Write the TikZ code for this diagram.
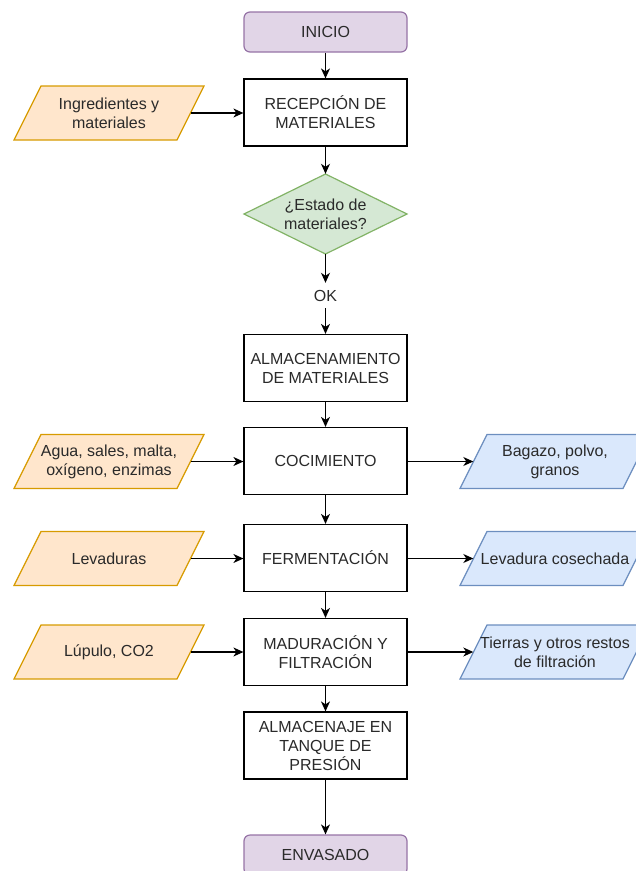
\documentclass[tikz,border=0pt]{standalone}
\usepackage{fontspec}
\setmainfont{Liberation Sans}
\usetikzlibrary{arrows.meta}
\definecolor{purF}{HTML}{E1D5E7}
\definecolor{purD}{HTML}{9673A6}
\definecolor{oraF}{HTML}{FFE6CC}
\definecolor{oraD}{HTML}{D79B00}
\definecolor{bluF}{HTML}{DAE8FC}
\definecolor{bluD}{HTML}{6C8EBF}
\definecolor{grnF}{HTML}{D5E8D4}
\definecolor{grnD}{HTML}{82B366}
\definecolor{txt}{HTML}{2A2A2A}
\newcommand{\iobox}[5]{%
  \filldraw[#4, line width=1.2pt] (#2-95,#3+27) -- (#2+68,#3+27) -- (#2+95,#3-27) -- (#2-68,#3-27) -- cycle;
  \node[iotext] (#1) at (#2,#3) {#5};
}
\begin{document}
\begin{tikzpicture}[x=1pt,y=-1pt,
  font=\fontsize{16}{19}\selectfont,
  proc/.style={draw=black, line width=1.2pt, fill=white, minimum width=163pt, minimum height=67pt, align=center, inner sep=2pt, text=txt},
  term/.style={proc, rounded corners=6pt, fill=purF, draw=purD, minimum height=40pt},
  iotext/.style={minimum width=163pt, minimum height=54pt, inner sep=0pt, align=center, text=txt},
  inio/.style={fill=oraF, draw=oraD},
  outio/.style={fill=bluF, draw=bluD},
  arr/.style={-{Stealth[length=10pt,width=9pt,inset=3pt]}, line width=1.2pt}
]
\useasboundingbox (0,0) rectangle (636,871);

% main column
\node[term] (ini) at (325.5,32) {INICIO};
\node[proc] (rec) at (325.5,112.5) {RECEPCIÓN DE\\MATERIALES};
\filldraw[fill=grnF, draw=grnD, line width=1.2pt] (244,214) -- (325.5,174) -- (407,214) -- (325.5,254) -- cycle;
\node[minimum width=163pt, minimum height=80pt, inner sep=0pt, align=center, text=txt] (dec) at (325.5,214) {¿Estado de\\materiales?};
\node[minimum height=25pt, inner sep=0pt, text=txt] (ok) at (325.5,295.5) {OK};
\node[proc] (alm) at (325.5,368) {ALMACENAMIENTO\\DE MATERIALES};
\node[proc] (coc) at (325.5,461) {COCIMIENTO};
\node[proc] (fer) at (325.5,558) {FERMENTACIÓN};
\node[proc] (mad) at (325.5,652) {MADURACIÓN Y\\FILTRACIÓN};
\node[proc] (ajt) at (325.5,745.5) {ALMACENAJE EN\\TANQUE DE\\PRESIÓN};
\node[term] (env) at (325.5,855) {ENVASADO};

% inputs
\iobox{i1}{109}{113}{inio}{Ingredientes y\\materiales}
\iobox{i2}{109}{461.5}{inio}{Agua, sales, malta,\\oxígeno, enzimas}
\iobox{i3}{109}{558.5}{inio}{Levaduras}
\iobox{i4}{109}{652}{inio}{Lúpulo, CO2}

% outputs
\iobox{o2}{555}{461.5}{outio}{Bagazo, polvo,\\granos}
\iobox{o3}{555}{558.5}{outio}{Levadura cosechada}
\iobox{o4}{555}{652}{outio}{Tierras y otros restos\\de filtración}

% connectors
\draw[arr] (ini) -- (rec);
\draw[arr] (rec) -- (dec.north);
\draw[arr] (dec.south) -- (ok);
\draw[arr] (ok) -- (alm);
\draw[arr] (alm) -- (coc);
\draw[arr] (coc) -- (fer);
\draw[arr] (fer) -- (mad);
\draw[arr] (mad) -- (ajt);
\draw[arr] (ajt) -- (env);

\draw[arr] (i1.east) -- (i1.east -| rec.west);
\draw[arr] (i2.east) -- (i2.east -| coc.west);
\draw[arr] (i3.east) -- (i3.east -| fer.west);
\draw[arr] (i4.east) -- (i4.east -| mad.west);

\draw[arr] (o2.west -| coc.east) -- (o2.west);
\draw[arr] (o3.west -| fer.east) -- (o3.west);
\draw[arr] (o4.west -| mad.east) -- (o4.west);
\end{tikzpicture}
\end{document}
